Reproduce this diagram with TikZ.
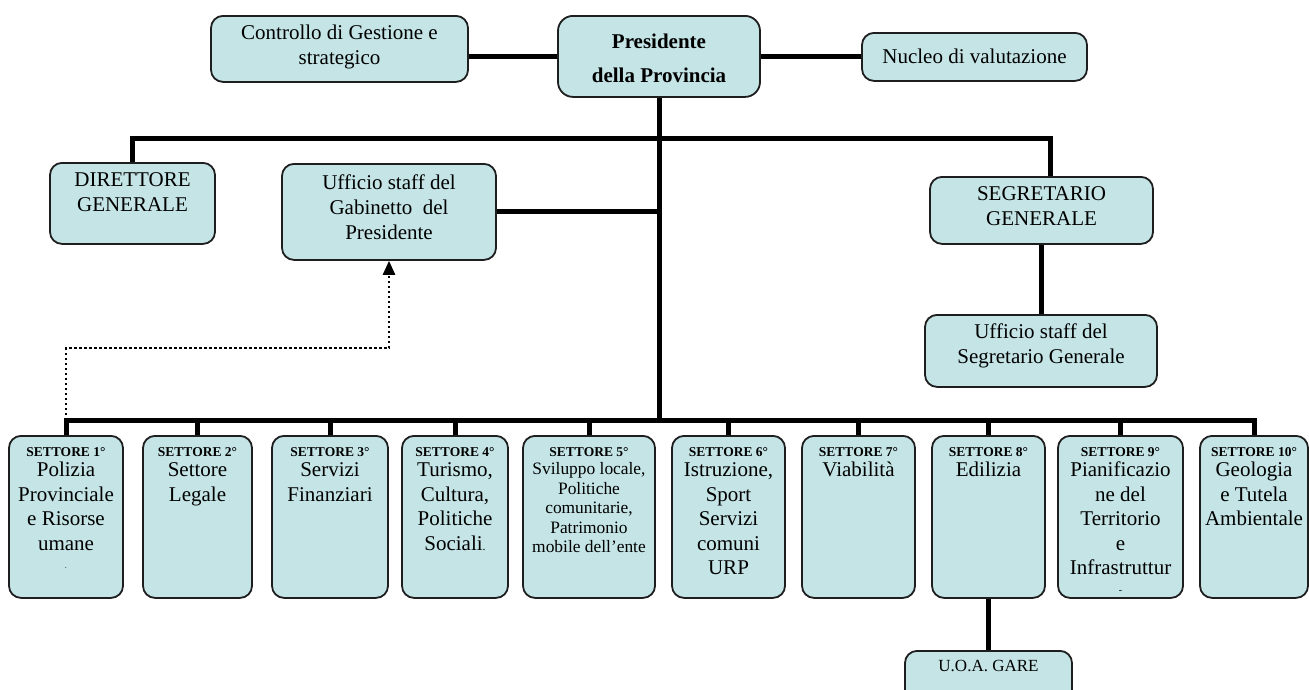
\documentclass[tikz,border=0pt]{standalone}
\usepackage{fontspec}
\setmainfont{Liberation Serif}
\usetikzlibrary{arrows.meta}
\definecolor{boxfill}{RGB}{196,228,230}
\definecolor{bord}{RGB}{30,30,30}
\newcommand{\myfA}{\normalfont\fontsize{21}{25}\selectfont}
\newcommand{\myfB}{\normalfont\fontsize{21}{34}\selectfont\bfseries}
\newcommand{\myfT}{\normalfont\fontsize{13.5}{16}\selectfont\bfseries}
\newcommand{\myfS}{\normalfont\fontsize{21}{24.5}\selectfont}
\newcommand{\myfF}{\normalfont\fontsize{17.4}{19.5}\selectfont}
\newcommand{\myfU}{\normalfont\fontsize{17}{20}\selectfont}
\newcommand{\mytb}[4]{\parbox[t][#1pt][t]{#2pt}{\centering\rule{0pt}{#3pt}#4}}
\begin{document}
\begin{tikzpicture}[x=1pt,y=-1pt,
  box/.style={draw=bord, fill=boxfill, line width=1.8pt, rounded corners=12pt, inner sep=0pt, anchor=north},
  conn/.style={line width=5pt, draw=black},
  dotarrow/.style={line width=2.5pt, dash pattern=on 2.5pt off 2.5pt, -{Triangle[length=14pt,width=12pt]}}]
\useasboundingbox (0,0) rectangle (1309,689);
\clip (0,0) rectangle (1309,689);
% top row
\node[box] (ctrl) at (339.5,15) {\mytb{66}{257}{24}{\myfA Controllo di Gestione e\\strategico}};
\node[box,rounded corners=15pt] (pres) at (659,15) {\mytb{81}{202}{33}{\myfB Presidente\\della Provincia}};
\node[box] (nuc) at (974.5,32) {\mytb{48}{225}{31}{\myfA Nucleo di valutazione}};
% middle row
\node[box] (dir) at (132.5,162) {\mytb{81}{165}{24}{\myfA DIRETTORE\\GENERALE}};
\node[box] (gab) at (389,163) {\mytb{96}{214}{26}{\myfA Ufficio staff del\\Gabinetto~ del\\Presidente}};
\node[box] (seg) at (1041.5,176) {\mytb{67}{223}{24}{\myfA SEGRETARIO\\GENERALE}};
\node[box] (useg) at (1041,314) {\mytb{72}{232}{24}{\myfA Ufficio staff del\\Segretario Generale}};
% settori
\node[box] (s1) at (66,435) {\mytb{162}{114}{20.5}{\myfT SETTORE 1°\\[-4pt]\myfS Polizia\\Provinciale\\e Risorse\\umane\\[-6pt]{\fontsize{8}{8}\selectfont .}}};
\node[box] (s2) at (197.5,435) {\mytb{162}{109}{20.5}{\myfT SETTORE 2°\\[-4pt]\myfS Settore\\Legale}};
\node[box] (s3) at (330,435) {\mytb{162}{116}{20.5}{\myfT SETTORE 3°\\[-4pt]\myfS Servizi\\Finanziari}};
\node[box] (s4) at (455,435) {\mytb{162}{106}{20.5}{\myfT SETTORE 4°\\[-4pt]\myfS Turismo,\\Cultura,\\Politiche\\Sociali{\fontsize{12}{12}\selectfont .}}};
\node[box] (s5) at (589,435) {\mytb{162}{132}{20.5}{\myfT SETTORE 5°\\[-1pt]\myfF Sviluppo locale,\\Politiche\\comunitarie,\\Patrimonio\\mobile dell’ente}};
\node[box] (s6) at (728.5,435) {\mytb{162}{113}{20.5}{\myfT SETTORE 6°\\[-4pt]\myfS Istruzione,\\Sport\\Servizi\\comuni\\URP}};
\node[box] (s7) at (858.5,435) {\mytb{162}{113}{20.5}{\myfT SETTORE 7°\\[-4pt]\myfS Viabilità}};
\node[box] (s8) at (988.5,435) {\mytb{162}{113}{20.5}{\myfT SETTORE 8°\\[-4pt]\myfS Edilizia}};
\node[box] (s9) at (1120.5,435) {\mytb{162}{125}{20.5}{\myfT SETTORE 9°\\[-4pt]\myfS Pianificazio\\ne del\\Territorio\\e\\Infrastruttur\\[-6pt]{\fontsize{10}{10}\selectfont -}}};
\node[box] (s10) at (1254,435) {\mytb{162}{108}{20.5}{\myfT SETTORE 10°\\[-4pt]\myfS Geologia\\e Tutela\\Ambientale}};
\node[box] (uoa) at (988.5,650) {\mytb{60}{167}{21}{\myfU U.O.A. GARE}};
% coordinates
\coordinate (bus) at (659,420);
\coordinate (ub) at (659,138);
\coordinate (dk) at (389,348);
% connectors
\draw[conn] (pres.west) -- (pres.west -| ctrl.east);
\draw[conn] (pres.east) -- (pres.east -| nuc.west);
\draw[conn] (pres.south) -- (bus);
\draw[conn] (dir.north) |- (ub) -| ([xshift=8.5pt]seg.north);
\draw[conn] (gab.east) -- (gab.east -| bus);
\draw[conn] (seg.south) -- (seg.south |- useg.north);
\draw[conn] (s1.north) -- (s1.north |- bus) -- (s10.north |- bus) -- (s10.north);
\foreach \k in {2,...,9}{\draw[conn] (s\k.north) -- (s\k.north |- bus);}
\draw[conn] (s8.south) -- (uoa.north);
\draw[dotarrow] (s1.north |- bus) -- (s1.north |- dk) -- (dk) -- (gab.south);
\end{tikzpicture}
\end{document}
